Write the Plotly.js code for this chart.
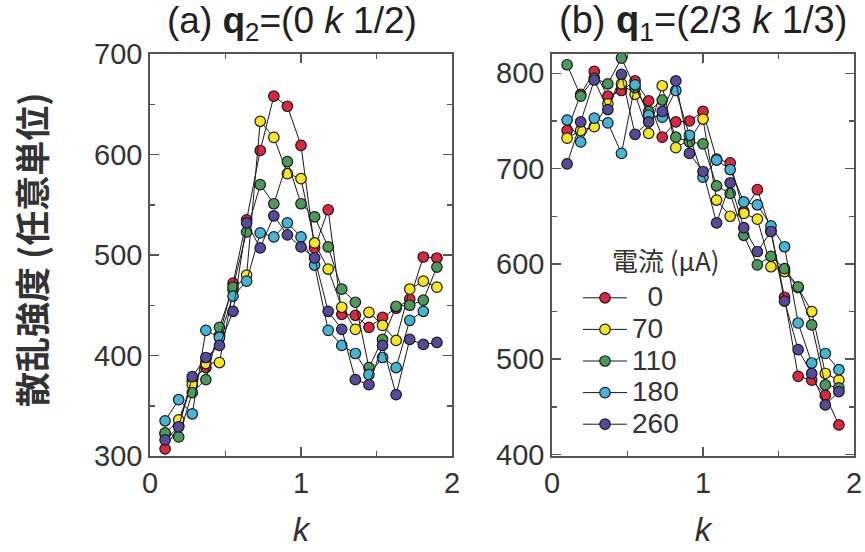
<!DOCTYPE html>
<html>
<head>
<meta charset="utf-8">
<script src="https://cdn.plot.ly/plotly-3.0.1.min.js"></script>
<style>html,body{margin:0;padding:0;background:#fff;}#chart{width:865px;height:552px;}</style>
</head>
<body>
<div id="chart"></div>
<script>
// k values (r.l.u.)
const k = [0.10,0.19,0.28,0.37,0.46,0.55,0.64,0.73,0.82,0.91,1.00,1.09,1.18,1.27,1.36,1.45,1.54,1.63,1.72,1.81,1.90];

// series names (current in μA) and legend labels
const currents = ["0","70","110","180","260"];
const legendLabels = ["\u20070","70","110","180","260"];
const colors = ["#e0253f","#f6e61c","#4b9a5a","#43b6d6","#564a9c"];

// (a) q2 = (0 k 1/2)
const a_0   = [307,330,375,388,420,472,535,604,658,648,609,507,545,441,440,428,438,447,456,498,497];
const a_70  = [322,336,371,392,393,465,480,633,617,581,576,512,486,448,426,443,430,415,466,474,468];
const a_110 = [323,319,363,376,428,468,523,570,551,593,551,538,508,466,453,388,416,449,450,455,488];
const a_180 = [335,356,342,425,418,459,474,522,518,532,518,490,425,410,402,381,398,388,435,444,null];
const a_260 = [316,329,379,398,410,444,532,507,539,520,508,497,444,426,376,371,410,361,416,411,413];

// (b) q1 = (2/3 k 1/3)
const b_0   = [740,778,802,776,782,792,771,733,749,750,760,710,706,655,678,635,565,482,478,462,431];
const b_70  = [732,740,744,768,789,778,737,787,722,730,752,667,650,653,647,597,592,575,550,485,478];
const b_110 = [809,776,795,789,816,785,760,772,733,728,726,682,674,630,599,608,595,576,536,473,470];
const b_180 = [751,728,753,748,716,788,756,754,782,735,691,709,699,665,662,640,618,538,496,506,489];
const b_260 = [705,749,793,762,799,736,749,760,792,716,697,643,685,638,613,634,561,510,485,452,466];

const seriesA = [a_0,a_70,a_110,a_180,a_260];
const seriesB = [b_0,b_70,b_110,b_180,b_260];

const W = 865, H = 552;
const px = v => v / W, py = v => 1 - v / H;

const traces = [];
currents.forEach((c, i) => {
  traces.push({
    x: k, y: seriesA[i], xaxis: 'x', yaxis: 'y', type: 'scatter', mode: 'lines+markers',
    name: legendLabels[i], legendgroup: c, showlegend: false,
    line: {color: '#1a1a1a', width: 1},
    marker: {color: colors[i], size: 10.5, line: {color: '#1a1a1a', width: 1.2}}
  });
});
currents.forEach((c, i) => {
  traces.push({
    x: k, y: seriesB[i], xaxis: 'x2', yaxis: 'y2', type: 'scatter', mode: 'lines+markers',
    name: '<span style="font-size:28px">' + legendLabels[i] + '</span>', legendgroup: c, showlegend: true,
    line: {color: '#1a1a1a', width: 1},
    marker: {color: colors[i], size: 10.5, line: {color: '#1a1a1a', width: 1.2}}
  });
});

const numFont = {family: 'Liberation Sans, Arial, sans-serif', size: 29, color: '#333'};
const minorTicks = (d) => ({dtick: d, ticks: 'inside', ticklen: 5, tickcolor: '#555', tickwidth: 1.5});
const axisCommon = {
  showgrid: false, zeroline: false, showline: true, linecolor: '#555', linewidth: 1.8,
  mirror: 'allticks', ticks: 'inside', ticklen: 9, tickwidth: 1.5, tickcolor: '#555',
  tickfont: numFont
};
const kTitle = {text: '<i>k</i>', font: {family: 'Liberation Sans, Arial, sans-serif', size: 33, color: '#333'}, standoff: 20};

const layout = {
  width: W, height: H,
  margin: {l: 0, r: 0, t: 0, b: 0},
  paper_bgcolor: '#fff', plot_bgcolor: '#fff',
  showlegend: true,
  xaxis: Object.assign({}, axisCommon, {
    domain: [px(150), px(452)], range: [0, 2], dtick: 1, anchor: 'y',
    minor: minorTicks(0.5), title: kTitle
  }),
  yaxis: Object.assign({}, axisCommon, {
    domain: [py(456), py(54)], range: [300, 700], dtick: 100, anchor: 'x',
    minor: minorTicks(50)
  }),
  xaxis2: Object.assign({}, axisCommon, {
    domain: [px(552), px(854)], range: [0, 2], dtick: 1, anchor: 'y2',
    minor: minorTicks(0.5), title: kTitle
  }),
  yaxis2: Object.assign({}, axisCommon, {
    domain: [py(456), py(54)], range: [398.4, 820.3], dtick: 100, anchor: 'x2',
    minor: minorTicks(50)
  }),
  legend: {
    x: px(578), y: py(277), xanchor: 'left', yanchor: 'top',
    bgcolor: 'rgba(0,0,0,0)', borderwidth: 0,
    font: {family: 'Liberation Sans, Arial, sans-serif', size: 22, color: '#333'},
    itemwidth: 44, tracegroupgap: 0, traceorder: 'normal'
  },
  annotations: [
    {xref: 'paper', yref: 'paper', x: px(292), y: py(23), xanchor: 'center', yanchor: 'middle', showarrow: false,
     text: '(a) <b>q</b><sub>2</sub>=(0 <i>k</i> 1/2)',
     font: {family: 'Liberation Sans, Arial, sans-serif', size: 37, color: '#222'}},
    {xref: 'paper', yref: 'paper', x: px(703), y: py(23), xanchor: 'center', yanchor: 'middle', showarrow: false,
     text: '(b) <b>q</b><sub>1</sub>=(2/3 <i>k</i> 1/3)',
     font: {family: 'Liberation Sans, Arial, sans-serif', size: 38, color: '#222'}},
    {xref: 'paper', yref: 'paper', x: px(30), y: py(250), xanchor: 'center', yanchor: 'middle', showarrow: false,
     textangle: -90, text: '散乱強度 (任意単位)',
     font: {family: 'Noto Sans CJK JP, sans-serif', size: 35, color: '#333', weight: 700}},
    {xref: 'paper', yref: 'paper', x: px(610), y: py(259), xanchor: 'left', yanchor: 'middle', showarrow: false,
     text: '電流 (μA)',
     font: {family: 'Noto Sans CJK JP, sans-serif', size: 26, color: '#333'}}
  ]
};

Plotly.newPlot('chart', traces, layout, {displayModeBar: false, staticPlot: true});
</script>
</body>
</html>
